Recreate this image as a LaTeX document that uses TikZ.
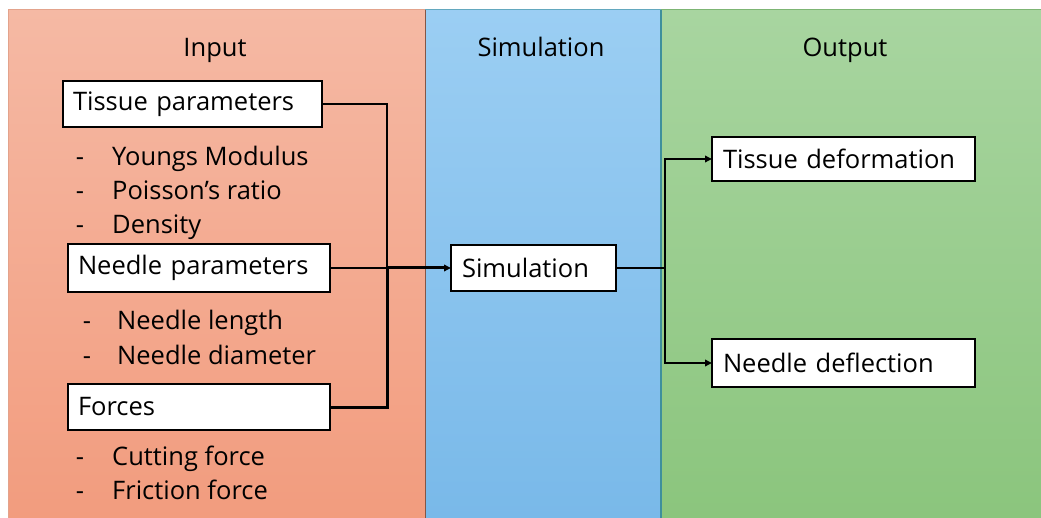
\documentclass[tikz,border=0pt]{standalone}
\usepackage{fontspec}
\setmainfont{Open Sans}
\usetikzlibrary{arrows.meta}

\definecolor{inTop}{HTML}{F5B9A4}
\definecolor{inBot}{HTML}{F29C7E}
\definecolor{inEdge}{HTML}{E3A38C}
\definecolor{simTop}{HTML}{9BCEF3}
\definecolor{simBot}{HTML}{79B9E9}
\definecolor{simEdge}{HTML}{3E8F9C}
\definecolor{outTop}{HTML}{A8D5A0}
\definecolor{outBot}{HTML}{8BC57D}
\definecolor{outEdge}{HTML}{7DB574}

\begin{document}
\begin{tikzpicture}[x=1pt,y=-1pt,
  txt/.style={font=\fontsize{25.5}{30}\selectfont, inner sep=0pt, text=black},
  box/.style={txt, draw=black, line width=2.2pt, fill=white, anchor=north west,
              align=left, inner xsep=10pt, inner ysep=0pt, outer sep=0pt},
  item/.style={txt, anchor=base west},
  dashmark/.style={txt, anchor=base},
  title/.style={txt, anchor=base},
  conn/.style={draw=black, line width=2.2pt},
  flow/.style={conn, -{Triangle[length=7pt,width=6.5pt]}},
]
\useasboundingbox (0,0) rectangle (1041,518);
\fill[white] (0,0) rectangle (1041,518);

% column backgrounds
\shade[top color=inTop, bottom color=inBot] (8,10) rectangle (425,518);
\shade[top color=simTop, bottom color=simBot] (425,10) rectangle (661,518);
\shade[top color=outTop, bottom color=outBot] (661,10) rectangle (1041,518);
\draw[inEdge, line width=1pt] (8,518) -- (8,10) -- (425,10);
\draw[simEdge!60!simTop, line width=1pt] (425,10) -- (661,10);
\draw[outEdge, line width=1pt] (661,10) -- (1041,10);
\draw[black!45!inBot, line width=1pt] (425,10) -- (425,518);
\draw[simEdge, line width=1.2pt] (661,10) -- (661,518);

% column titles
\node[title] (tIn)  at (215,57) {Input};
\node[title] (tSim) at (541,57) {Simulation};
\node[title] (tOut) at (845,57) {Output};

% input boxes
\node[box, minimum height=46pt, text width=239pt] (tp) at (63,81) {Tissue parameters};
\node[box, minimum height=48pt, text width=242pt] (np) at (68,244) {Needle parameters};
\node[box, minimum height=46pt, text width=242pt] (fo) at (68,384) {Forces};

% parameter lists
\node[dashmark] (d1) at (80,166) {-};
\node[item] (l1) at (112,166) {Youngs Modulus};
\node[dashmark] (d2) at (80,200) {-};
\node[item] (l2) at (112,200) {Poisson’s ratio};
\node[dashmark] (d3) at (80,234) {-};
\node[item] (l3) at (112,234) {Density};

\node[dashmark] (d4) at (87,330) {-};
\node[item] (l4) at (117,330) {Needle length};
\node[dashmark] (d5) at (87,364) {-};
\node[item] (l5) at (117,364) {Needle diameter};

\node[dashmark] (d6) at (80,465) {-};
\node[item] (l6) at (112,465) {Cutting force};
\node[dashmark] (d7) at (80,499) {-};
\node[item] (l7) at (112,499) {Friction force};

% simulation and outputs
\node[box, minimum height=46pt, text width=143pt, inner xsep=11pt] (sim) at (451,245) {Simulation};
\node[box, minimum height=44pt, text width=241pt, inner xsep=11pt] (td) at (712,137) {Tissue deformation};
\node[box, minimum height=48pt, text width=241pt, inner xsep=11pt] (nd) at (712,339) {Needle deflection};

% junction columns
\coordinate (jinx) at (387,0);
\coordinate (joutx) at (665,0);
\coordinate (jin) at (np.east -| jinx);
\coordinate (jout) at (sim.east -| joutx);

% connectors
\draw[conn] (tp.east) -| (jin);
\draw[conn, line width=3pt] (fo.east) -| (jin);
\draw[conn] (np.east) -- (jin);
\draw[flow, line width=3pt] (jin) -- (sim.west);
\draw[conn] (sim.east) -- (jout);
\draw[flow] (jout) |- (td.west);
\draw[flow] (jout) |- (nd.west);
\end{tikzpicture}
\end{document}
